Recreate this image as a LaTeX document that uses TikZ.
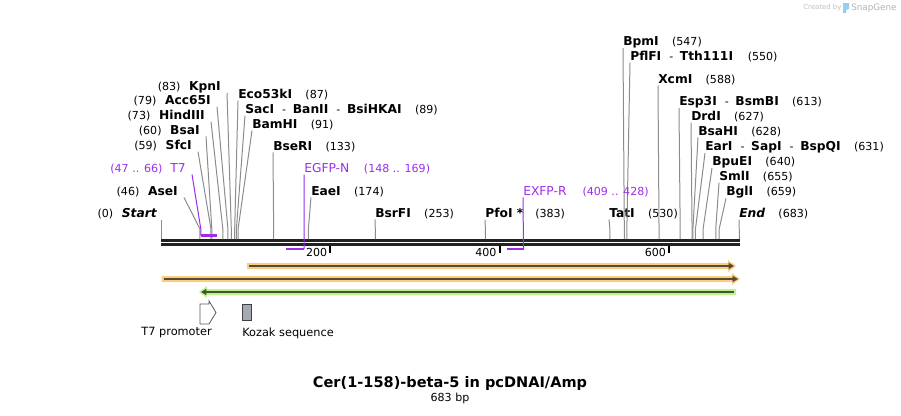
\documentclass[tikz,border=0pt]{standalone}
\usepackage{fontspec}
\setmainfont{DejaVu Sans}
\usetikzlibrary{arrows.meta}

\definecolor{primer}{RGB}{155,45,235}
\definecolor{sitegray}{RGB}{140,140,140}
\definecolor{orangefill}{RGB}{250,206,128}
\definecolor{greenfill}{RGB}{190,242,140}
\definecolor{featdark}{RGB}{85,75,55}
\definecolor{greendark}{RGB}{65,85,50}
\definecolor{kozakgray}{RGB}{164,169,178}
\definecolor{logoblue}{RGB}{150,205,240}

\newcommand{\enzname}[1]{{\fontsize{9.2}{11}\selectfont\bfseries #1}}
\newcommand{\bpnum}[1]{{\fontsize{8.3}{10}\selectfont(#1)}}
\newcommand{\enzsep}{\hspace{6pt}-\hspace{5pt}}
\newcommand{\sitex}[1]{161+0.847*#1}

\begin{document}
\begin{tikzpicture}[x=0.75pt,y=-0.75pt]
	\tikzset{
		lbl/.style={inner sep=0pt, font=\fontsize{8.3}{10}\selectfont},
		cutline/.style={sitegray, line width=0.75pt},
		primerline/.style={primer, line width=0.75pt},
		primerbar/.style={primer, line width=1.6pt},
		backbone/.style={black!87, line width=1.9pt},
		tick/.style={black, line width=1.5pt},
	}
	\useasboundingbox (0,0) rectangle (901,415);
	
	% Watermark
	\node[lbl, anchor=west, text=black!25, font=\fontsize{5.2}{6}\selectfont] (made) at (803,8) {Created by};
	\fill[logoblue] (843,3) -- (849,3) -- (849,9) -- (846,10) -- (846,13) -- (843,13) -- cycle;
	\node[lbl, anchor=west, text=black!30, font=\fontsize{6.6}{8}\selectfont] (snap) at (851,8) {SnapGene};
	
	% Cut sites on the backbone
	\foreach \p in {0,46,59,60,73,79,83,87,89,91,133,174,253,383,530,547,550,588,613,627,628,631,640,655,659,683}
		\coordinate (s\p) at ({\sitex{\p}},239);
	
	% Draw the backbone
	\draw[backbone] (161,240.3) -- (740,240.3);
	\draw[backbone] (161,244.6) -- (740,244.6);
	
	\foreach \t in {200,400,600}{
		\draw[tick] ({\sitex{\t}},246) -- ({\sitex{\t}},252.5);
		\node[lbl, anchor=east] (tick\t) at ({\sitex{\t}-3},252) {\t};
	}
	
	% Enzymes left of their sites
	\node[lbl, anchor=east] (kpn) at (221,87) {\bpnum{83}\hspace{6.5pt}\enzname{KpnI}};
	\node[lbl, anchor=east] (acc) at (211,101) {\bpnum{79}\hspace{6.5pt}\enzname{Acc65I}};
	\node[lbl, anchor=east] (hind) at (205,116) {\bpnum{73}\hspace{6.5pt}\enzname{HindIII}};
	\node[lbl, anchor=east] (bsa) at (200,131) {\bpnum{60}\hspace{6.5pt}\enzname{BsaI}};
	\node[lbl, anchor=east] (sfc) at (192,146) {\bpnum{59}\hspace{6.5pt}\enzname{SfcI}};
	\node[lbl, anchor=east] (ase) at (178,192) {\bpnum{46}\hspace{6.5pt}\enzname{AseI}};
	\node[lbl, anchor=east] (start) at (157,214) {\bpnum{0}\hspace{6.5pt}\enzname{\itshape Start}};
	
	\foreach \n/\p in {kpn/83, acc/79, hind/73, bsa/60, sfc/59, ase/46}
		\draw[cutline] ([xshift=4.5pt]\n.south east) -- ([yshift=7.5pt]s\p) -- (s\p);
	\draw[cutline] (s0 |- start.south) -- (s0);
	
	% Enzymes right of their sites
	\node[lbl, anchor=west] (eco) at (238,95) {\enzname{Eco53kI}\hspace{10pt}\bpnum{87}};
	\node[lbl, anchor=west] (sac) at (245,110) {\enzname{SacI}\enzsep\enzname{BanII}\enzsep\enzname{BsiHKAI}\hspace{10pt}\bpnum{89}};
	\node[lbl, anchor=west] (bam) at (252,125) {\enzname{BamHI}\hspace{10pt}\bpnum{91}};
	\node[lbl, anchor=west] (bseri) at (273,147) {\enzname{BseRI}\hspace{10pt}\bpnum{133}};
	\node[lbl, anchor=west] (eae) at (311,192) {\enzname{EaeI}\hspace{10pt}\bpnum{174}};
	\node[lbl, anchor=west] (bsrf) at (375,214) {\enzname{BsrFI}\hspace{10pt}\bpnum{253}};
	\node[lbl, anchor=west] (pfo) at (485,214) {\enzname{PfoI *}\hspace{9pt}\bpnum{383}};
	\node[lbl, anchor=west] (tat) at (609,214) {\enzname{TatI}\hspace{10pt}\bpnum{530}};
	\node[lbl, anchor=west] (bpm) at (623,42) {\enzname{BpmI}\hspace{10pt}\bpnum{547}};
	\node[lbl, anchor=west] (pfl) at (630,57) {\enzname{PflFI}\enzsep\enzname{Tth111I}\hspace{11pt}\bpnum{550}};
	\node[lbl, anchor=west] (xcm) at (658,80) {\enzname{XcmI}\hspace{10pt}\bpnum{588}};
	\node[lbl, anchor=west] (esp) at (679,102) {\enzname{Esp3I}\enzsep\enzname{BsmBI}\hspace{10pt}\bpnum{613}};
	\node[lbl, anchor=west] (drd) at (691,117) {\enzname{DrdI}\hspace{10pt}\bpnum{627}};
	\node[lbl, anchor=west] (bsah) at (698,132) {\enzname{BsaHI}\hspace{10pt}\bpnum{628}};
	\node[lbl, anchor=west] (ear) at (705,147) {\enzname{EarI}\enzsep\enzname{SapI}\enzsep\enzname{BspQI}\hspace{10pt}\bpnum{631}};
	\node[lbl, anchor=west] (bpue) at (712,162) {\enzname{BpuEI}\hspace{10pt}\bpnum{640}};
	\node[lbl, anchor=west] (sml) at (719,177) {\enzname{SmlI}\hspace{10pt}\bpnum{655}};
	\node[lbl, anchor=west] (bgl) at (726,192) {\enzname{BglI}\hspace{10pt}\bpnum{659}};
	\node[lbl, anchor=west] (endl) at (739,214) {\enzname{\itshape End}\hspace{10pt}\bpnum{683}};
	
	\foreach \n/\p in {eco/87, sac/89, bam/91, bseri/133, eae/174, bsrf/253, pfo/383, tat/530, bpm/547, pfl/550, xcm/588, esp/613, drd/627, bsah/628, ear/631, bpue/640, sml/655, bgl/659}
		\draw[cutline] (\n.south west) -- ([yshift=7.5pt]s\p) -- (s\p);
	\draw[cutline] (endl.south west) -- (s683);
	
	% Primers
	\coordinate (p47) at ({\sitex{47}},235.5);
	\coordinate (p66) at ({\sitex{66}},235.5);
	\coordinate (p148) at ({\sitex{148}},249);
	\coordinate (p169) at ({\sitex{169}},249);
	\coordinate (p409) at ({\sitex{409}},249);
	\coordinate (p428) at ({\sitex{428}},249);
	
	\node[lbl, anchor=east, text=primer] (t7) at (186,169) {\bpnum{47 .. 66}\hspace{6pt}{\fontsize{9.2}{11}\selectfont T7}};
	\node[lbl, anchor=west, text=primer] (egfp) at (304,169) {{\fontsize{9.2}{11}\selectfont EGFP-N}\hspace{11pt}\bpnum{148 .. 169}};
	\node[lbl, anchor=west, text=primer] (exfp) at (523,192) {{\fontsize{9.2}{11}\selectfont EXFP-R}\hspace{12pt}\bpnum{409 .. 428}};
	
	\draw[primerline] ([xshift=4.5pt]t7.south east) -- ([yshift=5pt]p47) -- (p47);
	\draw[primerline] (egfp.south west) -- (p169);
	\draw[primerline] (exfp.south west) -- (p428);
	\draw[primerbar] (p47) -- (p66);
	\draw[primerbar] (p148) -- (p169);
	\draw[primerbar] (p409) -- (p428);
	
	% Features
	\fill[orangefill] (247,263) -- (728,263) -- (728,260) -- (736,266) -- (728,272) -- (728,269) -- (247,269) -- cycle;
	\draw[featdark, line width=1.5pt, -{Triangle[length=4pt,width=4.5pt]}] (249,266) -- (734,266);
	
	\fill[orangefill] (161.5,276) -- (732,276) -- (732,273) -- (740,279) -- (732,285) -- (732,282) -- (161.5,282) -- cycle;
	\draw[featdark, line width=1.5pt, -{Triangle[length=4pt,width=4.5pt]}] (163.5,279) -- (738,279);
	
	\fill[greenfill] (736,289) -- (207,289) -- (207,286) -- (199,292) -- (207,298) -- (207,295) -- (736,295) -- cycle;
	\draw[greendark, line width=1.5pt, -{Triangle[length=4pt,width=4.5pt]}] (734,292) -- (201,292);
	
	% Promoter and Kozak sequence
	\draw[black!65, fill=white, line width=0.6pt] (200,304) -- (209,304) -- (209,301) -- (216,312.5) -- (209,324) -- (200,324) -- cycle;
	\draw[black!75, fill=kozakgray, line width=0.75pt] (242.3,304.3) rectangle (251.7,320.7);
	\node[lbl, anchor=east] (t7prom) at (212,333) {\fontsize{8.5}{10}\selectfont T7 promoter};
	\node[lbl, anchor=west] (kozak) at (242,333) {\fontsize{8.5}{10}\selectfont Kozak sequence};
	
	% Title
	\node[lbl] (title) at (450,383) {\fontsize{10.9}{13}\selectfont\bfseries Cer(1-158)-beta-5 in pcDNAI/Amp};
	\node[lbl] (size) at (450,398) {683 bp};
\end{tikzpicture}
\end{document}
